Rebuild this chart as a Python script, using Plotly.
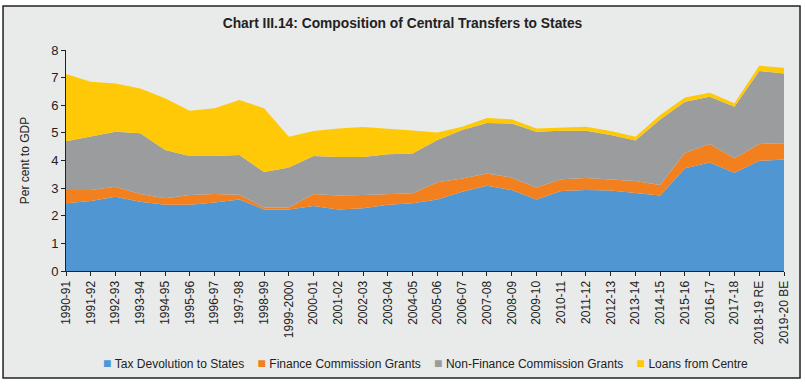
import plotly.graph_objects as go

years = ["1990-91", "1991-92", "1992-93", "1993-94", "1994-95", "1995-96", "1996-97",
         "1997-98", "1998-99", "1999-2000", "2000-01", "2001-02", "2002-03", "2003-04",
         "2004-05", "2005-06", "2006-07", "2007-08", "2008-09", "2009-10", "2010-11",
         "2011-12", "2012-13", "2013-14", "2014-15", "2015-16", "2016-17", "2017-18",
         "2018-19 RE", "2019-20 BE"]

tax_devolution = [2.45, 2.53, 2.69, 2.51, 2.40, 2.40, 2.48, 2.59, 2.23, 2.23, 2.35, 2.23,
                  2.27, 2.40, 2.45, 2.59, 2.87, 3.09, 2.93, 2.59, 2.90, 2.93, 2.91, 2.83,
                  2.73, 3.72, 3.93, 3.56, 3.99, 4.04]
finance_commission = [0.48, 0.40, 0.36, 0.28, 0.23, 0.35, 0.31, 0.17, 0.07, 0.07, 0.44, 0.50,
                      0.48, 0.37, 0.36, 0.62, 0.48, 0.44, 0.45, 0.43, 0.42, 0.44, 0.41, 0.43,
                      0.38, 0.56, 0.67, 0.52, 0.61, 0.58]
non_finance_commission = [1.77, 1.93, 1.99, 2.20, 1.75, 1.41, 1.37, 1.44, 1.28, 1.45, 1.37, 1.40,
                          1.38, 1.46, 1.44, 1.53, 1.75, 1.83, 1.96, 2.02, 1.76, 1.71, 1.60, 1.46,
                          2.37, 1.85, 1.71, 1.87, 2.64, 2.53]
loans_from_centre = [2.43, 1.99, 1.75, 1.62, 1.87, 1.64, 1.73, 1.99, 2.31, 1.11, 0.91, 1.03,
                     1.08, 0.93, 0.84, 0.27, 0.12, 0.18, 0.15, 0.12, 0.12, 0.14, 0.15, 0.14,
                     0.17, 0.15, 0.14, 0.12, 0.19, 0.21]

series = [
    ("Tax Devolution to States", tax_devolution, "#5096D3"),
    ("Finance Commission Grants", finance_commission, "#F3801F"),
    ("Non-Finance Commission Grants", non_finance_commission, "#9A9C9D"),
    ("Loans from Centre", loans_from_centre, "#FFC907"),
]

FONT = "Liberation Sans, Arial, sans-serif"
TEXT = "#222222"

fig = go.Figure()
for name, vals, color in series:
    fig.add_trace(go.Scatter(
        x=years, y=vals, name=name, mode="lines", stackgroup="one",
        line=dict(width=0, color=color), fillcolor=color, showlegend=False,
        hovertemplate="%{x}: %{y}<extra>" + name + "</extra>",
    ))

# Legend row built from the series names and colours
legend_text = "&nbsp;&nbsp;&nbsp;&nbsp;".join(
    f"<span style='color:{color};font-size:14px'>■</span>&nbsp;{name}" for name, _, color in series
)

fig.update_layout(
    width=805, height=387,
    margin=dict(l=66, r=21, t=50, b=116),
    paper_bgcolor="white",
    plot_bgcolor="rgba(0,0,0,0)",
    font=dict(family=FONT, size=12, color=TEXT),
    title=dict(text="<b>Chart III.14: Composition of Central Transfers to States</b>",
               x=0.5, xanchor="center", xref="container",
               y=1 - 23 / 387, yanchor="middle", yref="container",
               font=dict(family=FONT, size=13.8, color=TEXT)),
    showlegend=False,
    annotations=[dict(text=legend_text, xref="paper", yref="paper", x=0.5, y=-0.416,
                      xanchor="center", yanchor="middle", showarrow=False,
                      font=dict(family=FONT, size=12, color=TEXT))],
    shapes=[dict(type="rect", xref="paper", yref="paper",
                 x0=-0.0877, x1=1.0223, y0=-0.484, y1=1.199,
                 fillcolor="#E9EAEA", line=dict(color=TEXT, width=1.5), layer="below")],
)

fig.update_xaxes(
    type="category", range=[0, len(years) - 1], tickangle=-90, automargin=False,
    showgrid=False, zeroline=False, showline=True, linecolor=TEXT, linewidth=1,
    ticks="outside", ticklen=4, tickcolor=TEXT,
    tickfont=dict(family=FONT, size=12, color=TEXT),
)
fig.update_yaxes(
    range=[0, 8], dtick=1, showgrid=False, zeroline=False, automargin=False,
    showline=True, linecolor=TEXT, linewidth=1,
    ticks="outside", ticklen=4, tickcolor=TEXT,
    tickfont=dict(family=FONT, size=13, color=TEXT),
    title=dict(text="Per cent to GDP", font=dict(family=FONT, size=12, color=TEXT), standoff=18),
)

fig.write_html("out.html", config={"displayModeBar": False},
               post_script="document.body.style.margin='0';")
